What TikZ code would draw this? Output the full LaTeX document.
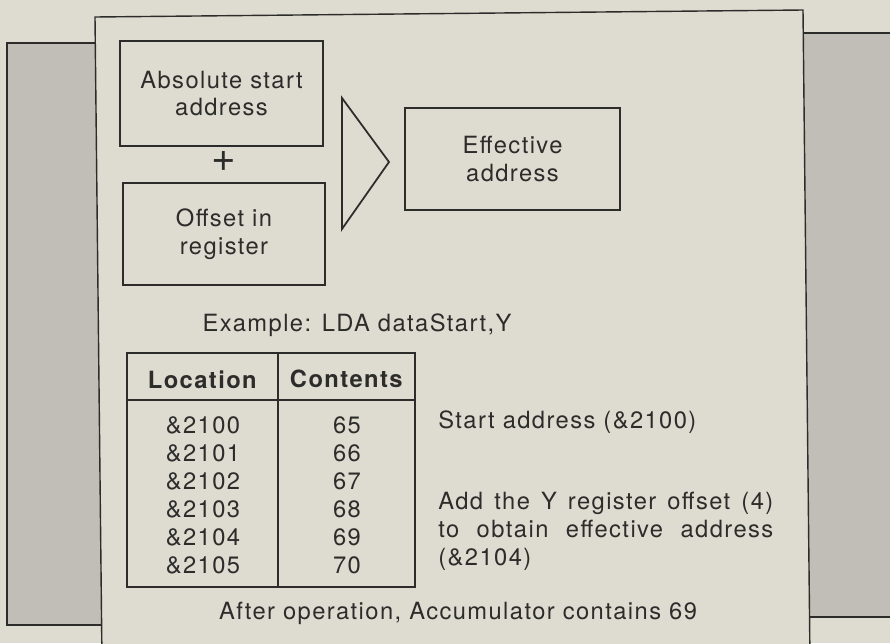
\documentclass[tikz,border=0pt]{standalone}
\usepackage{fontspec}
\setmainfont{TeX Gyre Heros}[LetterSpace=6]
\usetikzlibrary{calc}
\definecolor{paper}{RGB}{222,219,209}
\definecolor{shade}{RGB}{192,190,182}
\definecolor{ink}{RGB}{44,44,42}

\begin{document}
\begin{tikzpicture}[x=0.02cm,y=-0.02cm,every node/.style={font=\fontsize{13.5}{15.9}\selectfont,text=ink}]
\tikzset{box/.style={draw=ink,line width=1pt,align=center,inner sep=0pt}}
\useasboundingbox[fill=paper] (0,0) rectangle (890,643);

% side panels and page
\draw[ink,line width=0.8pt,fill=shade] (7,43) rectangle (110,625);
\draw[ink,line width=0.8pt,fill=shade] (790,33) rectangle (900,617);
\draw[ink,line width=0.8pt,fill=paper] (95,17) -- (803,10) -- (810,660) -- (102,660) -- cycle;

\node[box,minimum width=4.06cm,minimum height=2.1cm] (abs) at (221.5,93.5) {Absolute start\\address};
\node (plus) at (224,162) {\fontsize{24}{24}\selectfont +};
\node[box,minimum width=4.04cm,minimum height=2.04cm] (off) at (224,234) {Offset in\\register};
\draw[ink,line width=1pt,line join=miter] (342,98) -- (389,162) -- (342,229) -- cycle;
\node[box,minimum width=4.3cm,minimum height=2.04cm] (eff) at (512.5,159) {Effective\\address};

\node (example) at (357,325) {Example: LDA dataStart,Y};

% table
\draw[ink,line width=1pt] (127,353) rectangle (415,587);
\draw[ink,line width=1pt] (127,400) -- (415,400);
\draw[ink,line width=1pt] (278,353) -- (278,587);
\node (loch) at (203,380) {\textbf{Location}};
\node (valh) at (347,379) {\textbf{Contents}};
\foreach \loc/\val [count=\i from 0] in {2100/65,2101/66,2102/67,2103/68,2104/69,2105/70}{
  \node (loc\i) at (203,{425+28*\i}) {\&\loc};
  \node (val\i) at (347,{425+28*\i}) {\val};
}

\node[anchor=west,inner sep=0pt] (start) at (438,422) {Start address (\&2100)};
\node[anchor=north west,align=left,inner sep=0pt] (note) at (438,492)
  {\makebox[6.7cm][s]{Add the Y register offset (4)}\\\makebox[6.7cm][s]{to obtain effective address}\\(\&2104)};

\node (after) at (458,613) {After operation, Accumulator contains 69};

\end{tikzpicture}
\end{document}
